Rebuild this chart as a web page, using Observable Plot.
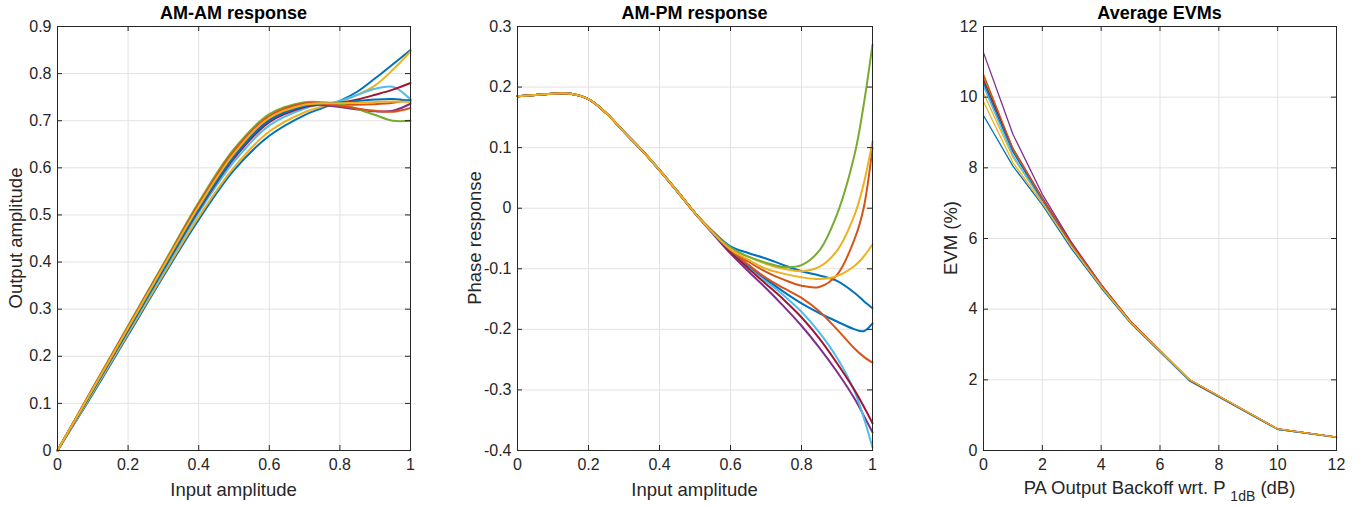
<!DOCTYPE html>
<html><head><meta charset="utf-8">
<script src="https://cdn.jsdelivr.net/npm/d3@7"></script>
<script src="https://cdn.jsdelivr.net/npm/@observablehq/plot@0.6"></script>
<style>
body{margin:0;background:#fff;font-family:"Liberation Sans",Arial,sans-serif;}
#wrap{position:relative;width:1365px;height:506px;overflow:hidden;background:#fff;}
.panel{position:absolute;top:0;}
.title{position:absolute;font-weight:bold;font-size:18px;color:#000;transform:translate(-50%,-50%);white-space:nowrap;}
.xlab{position:absolute;font-size:18.5px;color:#262626;transform:translate(-50%,-50%);white-space:nowrap;}
.ylab{position:absolute;font-size:18.5px;color:#262626;transform:translate(-50%,-50%) rotate(-90deg);white-space:nowrap;}
.xlab sub{font-size:14px;vertical-align:-7px;}
</style></head>
<body><div id="wrap"></div>
<script>
// MATLAB default colour order (10 series)
const colors = ["#0072BD","#D95319","#EDB120","#7E2F8E","#77AC30","#4DBEEE","#A2142F","#0072BD","#D95319","#EDB120"];

// ---- AM-AM response ----
const amInput = [0, 0.1, 0.2, 0.3, 0.4, 0.5, 0.6, 0.7, 0.75, 0.8, 0.85, 0.9, 0.95, 1];
const amOut1  = [0, 0.120, 0.245, 0.370, 0.490, 0.595, 0.668, 0.712, 0.727, 0.742, 0.762, 0.790, 0.820, 0.850];
const amOut2  = [0, 0.131, 0.261, 0.391, 0.520, 0.633, 0.708, 0.735, 0.736, 0.735, 0.734, 0.735, 0.738, 0.745];
const amOut3  = [0, 0.123, 0.249, 0.374, 0.496, 0.601, 0.677, 0.718, 0.730, 0.740, 0.755, 0.775, 0.808, 0.847];
const amOut4  = [0, 0.129, 0.258, 0.388, 0.515, 0.627, 0.703, 0.733, 0.733, 0.729, 0.724, 0.720, 0.721, 0.736];
const amOut5  = [0, 0.133, 0.265, 0.396, 0.527, 0.640, 0.714, 0.739, 0.739, 0.735, 0.725, 0.712, 0.700, 0.700];
const amOut6  = [0, 0.126, 0.253, 0.380, 0.505, 0.613, 0.690, 0.726, 0.735, 0.742, 0.755, 0.768, 0.772, 0.745];
const amOut7  = [0, 0.128, 0.256, 0.384, 0.510, 0.620, 0.697, 0.729, 0.735, 0.738, 0.745, 0.755, 0.766, 0.780];
const amOut8  = [0, 0.128, 0.257, 0.385, 0.512, 0.623, 0.700, 0.731, 0.736, 0.738, 0.742, 0.745, 0.746, 0.742];
const amOut9  = [0, 0.132, 0.263, 0.393, 0.523, 0.636, 0.710, 0.737, 0.736, 0.732, 0.726, 0.721, 0.719, 0.727];
const amOut10 = [0, 0.130, 0.260, 0.390, 0.518, 0.630, 0.706, 0.734, 0.737, 0.737, 0.738, 0.740, 0.741, 0.740];
const amSeries = [amOut1, amOut2, amOut3, amOut4, amOut5, amOut6, amOut7, amOut8, amOut9, amOut10];

// ---- AM-PM response ----
const pmCommonX = [0, 0.05, 0.1, 0.15, 0.2, 0.25, 0.3, 0.35, 0.4, 0.45, 0.5];
const pmCommon  = [0.185, 0.187, 0.189, 0.189, 0.180, 0.157, 0.126, 0.096, 0.063, 0.028, -0.008];
const pmTailX = [0.55, 0.6, 0.65, 0.7, 0.75, 0.8, 0.85, 0.9, 0.95, 0.975, 1];
const pmTail1  = [-0.038, -0.063, -0.074, -0.083, -0.094, -0.104, -0.111, -0.120, -0.140, -0.153, -0.165];
const pmTail2  = [-0.040, -0.068, -0.088, -0.105, -0.118, -0.128, -0.130, -0.110, -0.050, 0.000, 0.100];
const pmTail3  = [-0.039, -0.066, -0.080, -0.092, -0.100, -0.104, -0.097, -0.070, -0.010, 0.040, 0.110];
const pmTail4  = [-0.042, -0.075, -0.104, -0.132, -0.162, -0.194, -0.230, -0.270, -0.315, -0.342, -0.370];
const pmTail5  = [-0.039, -0.065, -0.080, -0.090, -0.097, -0.094, -0.070, -0.010, 0.090, 0.170, 0.270];
const pmTail6  = [-0.041, -0.071, -0.096, -0.120, -0.144, -0.171, -0.205, -0.247, -0.303, -0.345, -0.395];
const pmTail7  = [-0.041, -0.072, -0.099, -0.125, -0.151, -0.180, -0.215, -0.256, -0.301, -0.327, -0.355];
const pmTail8  = [-0.040, -0.069, -0.094, -0.117, -0.138, -0.157, -0.173, -0.187, -0.200, -0.203, -0.190];
const pmTail9  = [-0.040, -0.069, -0.093, -0.115, -0.132, -0.148, -0.170, -0.200, -0.232, -0.245, -0.255];
const pmTail10 = [-0.040, -0.068, -0.085, -0.100, -0.108, -0.114, -0.117, -0.112, -0.095, -0.080, -0.060];
const pmTails = [pmTail1, pmTail2, pmTail3, pmTail4, pmTail5, pmTail6, pmTail7, pmTail8, pmTail9, pmTail10];

// ---- Average EVMs ----
const backoff = [0, 1, 2, 3, 4, 5, 7, 10, 12];
const evm1  = [9.48, 8.05, 6.95, 5.70, 4.60, 3.60, 1.97, 0.60, 0.37];
const evm2  = [10.60, 8.50, 7.10, 5.82, 4.68, 3.65, 2.00, 0.61, 0.38];
const evm3  = [10.12, 8.30, 7.05, 5.78, 4.65, 3.63, 1.99, 0.60, 0.38];
const evm4  = [11.26, 8.95, 7.25, 5.88, 4.70, 3.65, 2.00, 0.61, 0.38];
const evm5  = [10.55, 8.50, 7.10, 5.80, 4.67, 3.64, 1.99, 0.60, 0.37];
const evm6  = [10.30, 8.35, 7.05, 5.78, 4.65, 3.63, 1.99, 0.60, 0.38];
const evm7  = [10.48, 8.55, 7.15, 5.85, 4.68, 3.65, 2.00, 0.61, 0.38];
const evm8  = [10.40, 8.45, 7.10, 5.80, 4.67, 3.64, 1.99, 0.60, 0.38];
const evm9  = [10.65, 8.55, 7.12, 5.83, 4.69, 3.66, 2.00, 0.61, 0.38];
const evm10 = [9.87, 8.15, 7.00, 5.76, 4.64, 3.63, 2.01, 0.61, 0.38];
const evmSeries = [evm1, evm2, evm3, evm4, evm5, evm6, evm7, evm8, evm9, evm10];

// ---- tick values & labels ----
const ampTicks = [0, 0.2, 0.4, 0.6, 0.8, 1];
const amYTicks = [0, 0.1, 0.2, 0.3, 0.4, 0.5, 0.6, 0.7, 0.8, 0.9];
const pmYTicks = [-0.4, -0.3, -0.2, -0.1, 0, 0.1, 0.2, 0.3];
const evmXTicks = [0, 2, 4, 6, 8, 10, 12];
const evmYTicks = [0, 2, 4, 6, 8, 10, 12];
const titles = ["AM-AM response", "AM-PM response", "Average EVMs"];
const xLabels = ["Input amplitude", "Input amplitude", "PA Output Backoff wrt. P <sub>1dB</sub> (dB)"];
const yLabels = ["Output amplitude", "Phase response", "EVM (%)"];

const wrap = document.getElementById("wrap");
const fmt = d => String(d);
const H = 506, MT = 26, MB = 56, ML = 57, MR = 10;

function panel({left, width, xDomain, yDomain, xTicks, yTicks, lines}) {
  const fh = H - MT - MB, fw = width - ML - MR;
  const axisColor = "#262626";
  const p = Plot.plot({
    width, height: H, marginTop: MT, marginBottom: MB, marginLeft: ML, marginRight: MR,
    style: {fontFamily: "'Liberation Sans', Arial, sans-serif", fontSize: "16px", color: "#262626", background: "transparent", overflow: "visible"},
    x: {domain: xDomain}, y: {domain: yDomain},
    marks: [
      Plot.gridX(xTicks, {stroke: "#e2e2e2", strokeOpacity: 1}),
      Plot.gridY(yTicks, {stroke: "#e2e2e2", strokeOpacity: 1}),
      ...lines,
      Plot.tickX(xTicks, {x: d => d, insetTop: fh - 5, stroke: axisColor}),
      Plot.tickX(xTicks, {x: d => d, insetBottom: fh - 5, stroke: axisColor}),
      Plot.tickY(yTicks, {y: d => d, insetRight: fw - 5, stroke: axisColor}),
      Plot.tickY(yTicks, {y: d => d, insetLeft: fw - 5, stroke: axisColor}),
      Plot.frame({stroke: axisColor}),
      Plot.axisX(xTicks, {tickSize: 0, tickPadding: 8, tickFormat: fmt, label: null, fill: "#262626", fontSize: 16}),
      Plot.axisY(yTicks, {tickSize: 0, tickPadding: 6, tickFormat: fmt, label: null, fill: "#262626", fontSize: 16})
    ]
  });
  p.classList.add("panel");
  p.style.left = left + "px";
  wrap.appendChild(p);
}

const amLines = amSeries.map((ys, i) =>
  Plot.line(amInput.map((x, j) => ({x, y: ys[j]})), {x: "x", y: "y", stroke: colors[i], strokeWidth: 2, curve: "catmull-rom"}));
const pmLines = pmTails.map((ys, i) => {
  const pts = pmCommonX.map((x, j) => ({x, y: pmCommon[j]})).concat(pmTailX.map((x, j) => ({x, y: ys[j]})));
  return Plot.line(pts, {x: "x", y: "y", stroke: colors[i], strokeWidth: 2, curve: "catmull-rom"});
});
const evmLines = evmSeries.map((ys, i) =>
  Plot.line(backoff.map((x, j) => ({x, y: ys[j]})), {x: "x", y: "y", stroke: colors[i], strokeWidth: 1.3}));

const panels = [
  {left: 0, width: 420, xDomain: [0, 1], yDomain: [0, 0.9], xTicks: ampTicks, yTicks: amYTicks, lines: amLines},
  {left: 460, width: 422, xDomain: [0, 1], yDomain: [-0.4, 0.3], xTicks: ampTicks, yTicks: pmYTicks, lines: pmLines},
  {left: 926, width: 420, xDomain: [0, 12], yDomain: [0, 12], xTicks: evmXTicks, yTicks: evmYTicks, lines: evmLines}
];
panels.forEach(panel);

const ylabX = [16, 475, 951];
panels.forEach((pp, i) => {
  const cx = pp.left + ML + (pp.width - ML - MR) / 2;
  const t = document.createElement("div"); t.className = "title"; t.textContent = titles[i];
  t.style.left = cx + "px"; t.style.top = "13px"; wrap.appendChild(t);
  const xl = document.createElement("div"); xl.className = "xlab"; xl.innerHTML = xLabels[i];
  xl.style.left = cx + "px"; xl.style.top = "490px"; wrap.appendChild(xl);
  const yl = document.createElement("div"); yl.className = "ylab"; yl.textContent = yLabels[i];
  yl.style.left = ylabX[i] + "px"; yl.style.top = (MT + (H - MT - MB) / 2) + "px"; wrap.appendChild(yl);
});
</script>
</body></html>
